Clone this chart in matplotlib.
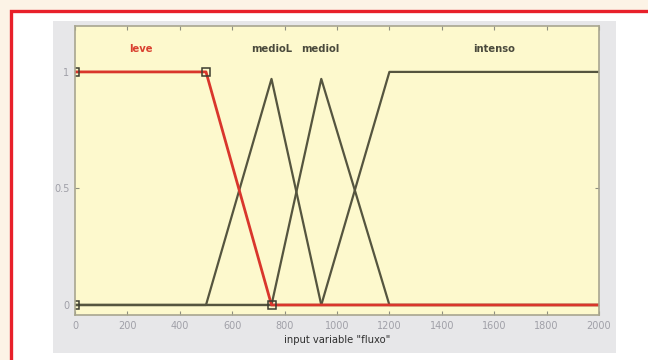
import matplotlib
matplotlib.use("Agg")
import matplotlib.pyplot as plt
from matplotlib.patches import Rectangle

# ---- data ----
x_limits = [0, 2000]
x_ticks = [0, 200, 400, 600, 800, 1000, 1200, 1400, 1600, 1800, 2000]
y_ticks = [0, 0.5, 1]
y_tick_labels = ["0", "0.5", "1"]

mf_names = ["leve", "medioL", "medioI", "intenso"]
leve_x = [0, 500, 750, 2000]
leve_y = [1, 1, 0, 0]
leve_marker_x = [0, 0, 500, 750]
leve_marker_y = [0, 1, 1, 0]
medioL_x = [0, 500, 750, 940, 2000]
medioL_y = [0, 0, 0.97, 0, 0]
medioI_x = [0, 750, 940, 1200, 2000]
medioI_y = [0, 0, 0.97, 0, 0]
intenso_x = [0, 940, 1200, 2000]
intenso_y = [0, 0, 1, 1]
label_x = [250, 750, 935, 1600]
label_y = 1.1
x_label = 'input variable "fluxo"'

W, H = 648, 360
fig = plt.figure(figsize=(W / 100, H / 100), dpi=100)
fig.patch.set_facecolor("#fcf3e6")

def px_rect(x0, y0, x1, y1, **kw):
    # pixel coords from top-left
    r = Rectangle((x0 / W, 1 - y1 / H), (x1 - x0) / W, (y1 - y0) / H,
                  transform=fig.transFigure, zorder=-10, **kw)
    fig.add_artist(r)

# white card with red border (right/bottom edges off-canvas)
px_rect(11, 10.5, 660, 372, facecolor="white", edgecolor="#e8202a", linewidth=2.4)
# gray panel
px_rect(53, 21, 616, 353, facecolor="#e7e7e9", edgecolor="none")

ax = fig.add_axes([75 / W, 1 - 315 / H, 524 / W, 289 / H])
ax.set_zorder(5)
ax.set_facecolor("#fdf9cd")
ax.set_xlim(x_limits)
ax.set_ylim(-0.043, 1.197)

dark = "#55553f"
ax.plot(medioL_x, medioL_y, color=dark, lw=1.6)
ax.plot(medioI_x, medioI_y, color=dark, lw=1.6)
ax.plot(intenso_x, intenso_y, color=dark, lw=1.6)
ax.plot(leve_x, leve_y, color="#d9362c", lw=2.0)
ax.plot(leve_marker_x, leve_marker_y, linestyle="none", marker="s", ms=6,
        markerfacecolor="none", markeredgecolor="#3d3d30", markeredgewidth=1.1)

for name, lx in zip(mf_names, label_x):
    ax.text(lx, label_y, name, ha="center", va="center", fontsize=7.2,
            fontweight="bold",
            color="#d9402f" if name == "leve" else "#4a4a3c")

ax.set_xticks(x_ticks)
ax.set_xticklabels([str(t) for t in x_ticks])
ax.set_yticks(y_ticks)
ax.set_yticklabels(y_tick_labels)
ax.tick_params(direction="in", top=True, right=True, length=3, width=0.8,
               color="#8f8f80", labelcolor="#a0a0a8", labelsize=7, pad=4)
for s in ax.spines.values():
    s.set_color("#a8a690")
    s.set_linewidth(1.2)
ax.set_xlabel(x_label, fontsize=7.2, color="#303030", labelpad=3)

fig.savefig("out.png", dpi=100, facecolor=fig.get_facecolor())
